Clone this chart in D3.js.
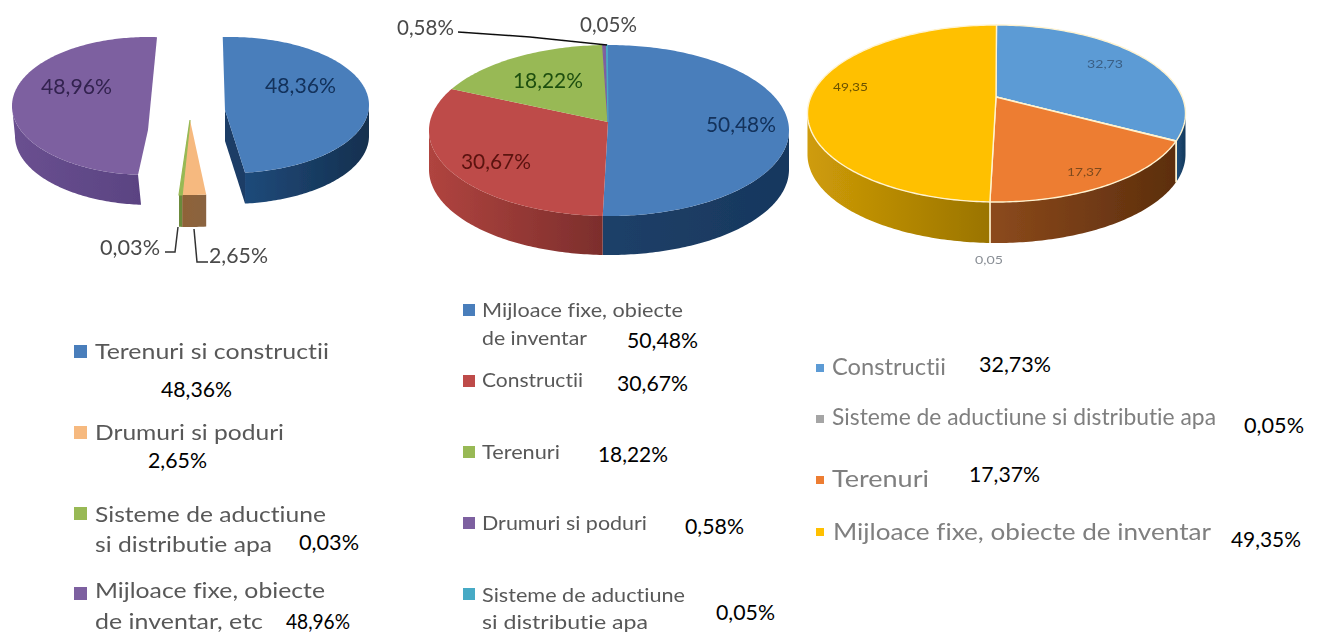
<!DOCTYPE html>
<html><head><meta charset="utf-8">
<style>html,body{margin:0;padding:0;background:#fff;overflow:hidden}text{font-family:Lato,"Open Sans",sans-serif;font-variant-ligatures:none}</style>
<script src="https://cdn.jsdelivr.net/npm/d3@7"></script></head>
<body><svg id="c" width="1334" height="635"></svg>
<script>
// ---- data ----
const pie1Categories = ["Terenuri si constructii","Drumuri si poduri","Sisteme de aductiune|si distributie apa","Mijloace fixe, obiecte|de inventar, etc"];
const pie1Values = [48.36,2.65,0.03,48.96];
const pie2Categories = ["Mijloace fixe, obiecte|de inventar","Constructii","Terenuri","Drumuri si poduri","Sisteme de aductiune|si distributie apa"];
const pie2Values = [50.48,30.67,18.22,0.58,0.05];
const pie3Categories = ["Constructii","Sisteme de aductiune si distributie apa","Terenuri","Mijloace fixe, obiecte de inventar"];
const pie3Values = [32.73,0.05,17.37,49.35];

// ---- styles / layout ----
const pie1Colors = ["#4a7ebb","#f6b97f","#98b954","#7d60a0"];
const pie2Colors = ["#4a7ebb","#be4b48","#98b954","#7d60a0","#46aac5"];
const pie3Colors = ["#5b9bd5","#a5a5a5","#ed7d31","#ffc000"];
const pie1Sides = [["#1f4a7a","#14304f"],["#8f6238","#8a6440"],["#6b8a3a","#6b8a3a"],["#6a5090","#5a4382"]];
const pie2Sides = [["#1e4068","#17375e"],["#b0443f","#7c2e2c"],["#6b8a3a","#6b8a3a"],["#54407a","#54407a"],["#2e7f96","#2e7f96"]];
const pie3Sides = [["#1f4e79","#163a5c"],["#777","#777"],["#8c4a1c","#5c2e0d"],["#cf9c08","#9a7400"]];
const geo1 = [
  {cx:230,cy:105,rx:139,ry:68,ax:225,ay:110,depth:31,dx:0},
  {cx:190,cy:122,rx:150,ry:73,ax:190,ay:120,depth:32,dx:0},
  {cx:190,cy:122,rx:150,ry:73,ax:190,ay:120,depth:32,dx:0},
  {cx:148,cy:106,rx:136,ry:69,ax:148,ay:130,depth:30,dx:3}];
const geo2 = d3.range(5).map(()=>({cx:609,cy:130.5,rx:180,ry:85.5,ax:608,ay:122,depth:39,dx:0}));
const geo3 = d3.range(4).map(()=>({cx:996.5,cy:113.5,rx:189,ry:88.5,ax:996,ay:97,depth:41,dx:0}));
const pie1Edges = [-3,173.8,183,184.2,363.8];
const pie2Edges = [-0.6,182,299,358,359.2,359.4];
const pie3Edges = [0,108,108.3,182,360];
const pie1Inner = [{x:265,y:93,w:71,c:"#12305a"},null,null,{x:41,y:94,w:71,c:"#33224f"}];
const pie2Inner = [{x:706,y:132,w:70,c:"#12305a"},{x:461,y:169,w:70,c:"#5a1210"},{x:513,y:88,w:70,c:"#1f4f10"},null,null];
const pie3Inner = [{x:1087,y:68,w:36,c:"#3a5f85",s:12},null,{x:1067,y:176,w:35,c:"#7d4a1f",s:12},{x:833,y:91,w:35,c:"#6b5200",s:12}];
const outer = [
  {t:"0,03%",x:100,y:255,w:60,c:"#4a4a4a",s:21},{t:"2,65%",x:209,y:263,w:59,c:"#4a4a4a",s:21},
  {t:"0,58%",x:397,y:35,w:57,c:"#4a4a4a",s:21},{t:"0,05%",x:580,y:32,w:57,c:"#4a4a4a",s:21},
  {t:"0,05",x:975,y:264,w:28,c:"#8a8f96",s:12}];
const leaders = [
  [[178,227],[175,252],[165,252]],
  [[194,229],[197,262],[208,262]],
  [[458,32],[530,37],[607,45]]];
const legend1 = [
  {mx:74,my:345,ms:13,fs:22,lines:[[95,359,234]],val:[161,397,71]},
  {mx:74,my:426,ms:13,fs:22,lines:[[95,440,189]],val:[148,468,59]},
  {mx:74,my:507,ms:13,fs:22,lines:[[95,522,231],[95,552,177]],val:[299,550,60]},
  {mx:74,my:587,ms:13,fs:22,lines:[[95,598,230],[95,629,168]],val:[286,629,64]}];
const legend2 = [
  {mx:463,my:304,ms:12,fs:20,lines:[[482,317,201],[482,345,105]],val:[627,348,71]},
  {mx:463,my:375,ms:12,fs:20,lines:[[482,387,101]],val:[617,391,71]},
  {mx:463,my:446,ms:12,fs:20,lines:[[482,459,78]],val:[598,462,70]},
  {mx:463,my:517,ms:12,fs:20,lines:[[482,530,165]],val:[685,534,59]},
  {mx:463,my:588,ms:12,fs:20,lines:[[482,602,203],[482,629,166]],val:[716,620,59]}];
const legend3 = [
  {mx:816,my:364,ms:8,fs:24,lines:[[832,375,114]],val:[979,372,72]},
  {mx:816,my:415,ms:8,fs:24,lines:[[832,425,384]],val:[1244,433,60]},
  {mx:816,my:476,ms:8,fs:24,lines:[[832,487,97]],val:[969,482,71]},
  {mx:816,my:528,ms:8,fs:24,lines:[[833,540,378]],val:[1231,547,70]}];

const svg = d3.select("#c");
const defs = svg.append("defs");
defs.append("filter").attr("id","soft").attr("x","-5%").attr("y","-5%").attr("width","110%").attr("height","110%")
  .append("feGaussianBlur").attr("stdDeviation",0.6);
const pctFmt = v => v.toFixed(2).replace(".",",")+"%";
const rawFmt = v => v.toFixed(2).replace(".",",");
const deg = Math.PI/180;
const lineGen = d3.line();
const rim = (g,a,dy=0)=>[g.cx+g.rx*Math.sin(a*deg)+(dy?g.dx:0), g.cy-g.ry*Math.cos(a*deg)+dy];
const sweep = (a0,a1)=>{const n=Math.max(2,Math.ceil(Math.abs(a1-a0)));return d3.range(n+1).map(i=>a0+(a1-a0)*i/n);};

function drawPie(id,values,colors,sides,geos,edges,inner,fmt,strokeCol){
  const arcs = d3.pie().sort(null)(values);
  const dom = [0,...arcs.map(d=>d.endAngle/deg)];
  const warp = d3.scaleLinear().domain(dom).range(edges);
  const g = svg.append("g").attr("filter","url(#soft)");
  const slices = arcs.map((d,i)=>({i,g:geos[i],a0:warp(d.startAngle/deg),a1:warp(d.endAngle/deg),v:d.value}));
  slices.forEach(s=>{
    const lo=Math.max(s.a0,90), hi=Math.min(s.a1,270);
    if(hi<=lo) return;
    const gid=`${id}s${s.i}`;
    const lg=defs.append("linearGradient").attr("id",gid);
    lg.append("stop").attr("offset",0).attr("stop-color",sides[s.i][0]);
    lg.append("stop").attr("offset",1).attr("stop-color",sides[s.i][1]);
    const pts=[...sweep(lo,hi).map(a=>rim(s.g,a)),...sweep(hi,lo).map(a=>rim(s.g,a,s.g.depth))];
    g.append("path").attr("d",lineGen(pts)+"Z").attr("fill",`url(#${gid})`);
    if(strokeCol){
      [lo,hi].filter(a=>a>90&&a<270).forEach(a=>{
        g.append("path").attr("d",lineGen([rim(s.g,a),rim(s.g,a,s.g.depth)])).attr("stroke",strokeCol).attr("stroke-width",1.4).attr("fill","none");
      });
    }
  });
  // cut face of the exploded right-hand slice
  if(id==="p1"){
    const s=slices[0], e=rim(s.g,s.a1);
    g.append("path").attr("d",lineGen([[s.g.ax,s.g.ay],e,[e[0],e[1]+s.g.depth],[s.g.ax,s.g.ay+s.g.depth]])+"Z").attr("fill","#1a3c66");
  }
  slices.forEach(s=>{
    const pts=[[s.g.ax,s.g.ay],...sweep(s.a0,s.a1).map(a=>rim(s.g,a))];
    g.append("path").attr("d",lineGen(pts)+"Z").attr("fill",colors[s.i])
      .attr("stroke",strokeCol||(s.v<1?colors[s.i]:"none")).attr("stroke-width",strokeCol?1.4:(s.v<1?1.2:0));
  });
  const tg=svg.append("g").attr("filter","url(#soft)");
  inner.forEach((p,i)=>{ if(!p) return;
    tg.append("text").attr("x",p.x).attr("y",p.y).attr("fill",p.c).attr("font-size",p.s||21)
      .attr("textLength",p.w).attr("lengthAdjust","spacingAndGlyphs").text(fmt(values[i]));
  });
}
drawPie("p1",pie1Values,pie1Colors,pie1Sides,geo1,pie1Edges,pie1Inner,pctFmt);
drawPie("p2",pie2Values,pie2Colors,pie2Sides,geo2,pie2Edges,pie2Inner,pctFmt);
drawPie("p3",pie3Values,pie3Colors,pie3Sides,geo3,pie3Edges,pie3Inner,rawFmt,"#fff3d0");

const soft=svg.append("g").attr("filter","url(#soft)");
leaders.forEach((l,i)=>soft.append("path").attr("d",lineGen(l)).attr("fill","none").attr("stroke",i==2?"#111":"#333").attr("stroke-width",1.5));
outer.forEach(o=>soft.append("text").attr("x",o.x).attr("y",o.y).attr("fill",o.c).attr("font-size",o.s)
  .attr("textLength",o.w).attr("lengthAdjust","spacingAndGlyphs").text(o.t));

function drawLegend(cats,vals,colors,layout,textCol){
  const g=svg.append("g");
  const blurred=g.append("g").attr("filter","url(#soft)");
  cats.forEach((c,i)=>{
    const L=layout[i];
    blurred.append("rect").attr("x",L.mx).attr("y",L.my).attr("width",L.ms).attr("height",L.ms).attr("fill",colors[i]);
    c.split("|").forEach((t,j)=>{
      const [x,y,w]=L.lines[j];
      blurred.append("text").attr("x",x).attr("y",y).attr("font-size",L.fs).attr("fill",textCol)
        .attr("textLength",w).attr("lengthAdjust","spacingAndGlyphs").text(t);
    });
    const [vx,vy,vw]=L.val;
    g.append("text").attr("x",vx).attr("y",vy).attr("font-size",21).attr("fill","#000")
      .attr("textLength",vw).attr("lengthAdjust","spacingAndGlyphs").text(pctFmt(vals[i]));
  });
}
drawLegend(pie1Categories,pie1Values,pie1Colors,legend1,"#595959");
drawLegend(pie2Categories,pie2Values,pie2Colors,legend2,"#595959");
drawLegend(pie3Categories,pie3Values,pie3Colors,legend3,"#7f7f7f");
</script></body></html>
